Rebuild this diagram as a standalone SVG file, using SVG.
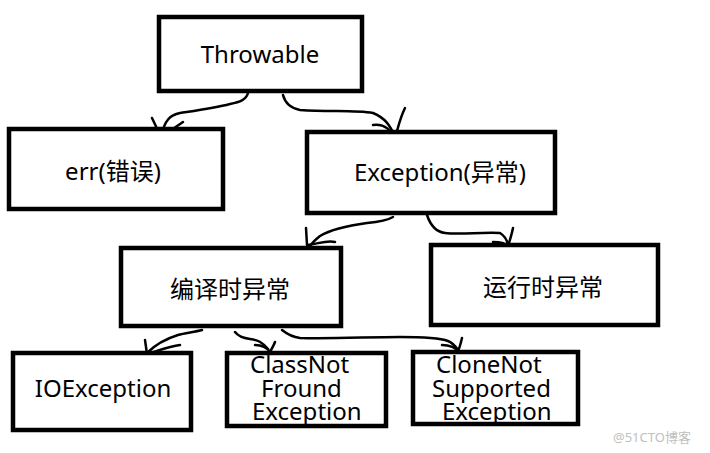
<svg xmlns="http://www.w3.org/2000/svg" width="710" height="453" viewBox="0 0 710 453">
<style>
.box{fill:#fff;stroke:#000;stroke-width:4.5}
.t{font-family:"Noto Sans","Noto Sans CJK SC",sans-serif;font-size:24px;fill:#000}
.c{text-anchor:middle}
.ln{fill:none;stroke:#000;stroke-width:2.5;stroke-linecap:round;stroke-linejoin:round}
.wm{font-family:"Noto Sans","Noto Sans CJK SC",sans-serif;font-size:13px;fill:#c0c0c0}
</style>
<rect width="710" height="453" fill="#fff"/>
<g id="connectors">
<path class="ln" d="M248,93 C246,100 240,102 230,104 C215,108 200,110 180,113 C170,115 165,120 161,136"/>
<path class="ln" d="M152,118 L161,137 L183,122"/>
<path class="ln" d="M283,95 C285,103 290,108 300,110 C330,112 355,110 373,113 C385,118 390,125 395,137"/>
<path class="ln" d="M373,125 C385,123 392,132 395,138 C398,128 400,118 405,108"/>
<path class="ln" d="M393,217 C388,220 378,222 367,223 C345,226 330,230 320,236 C315,240 312,243 310,246"/>
<path class="ln" d="M306,228 L307,245 C318,244 326,240 335,242"/>
<path class="ln" d="M427,215 C430,224 436,232 445,233 C460,235 480,232 500,233 C505,236 507,240 508,245"/>
<path class="ln" d="M493,242 C500,242 506,244 508,246 C510,240 512,233 513,228"/>
<path class="ln" d="M202,330 C195,332 185,333 178,335 C165,339 156,344 147,353"/>
<path class="ln" d="M145,340 L147,354 C160,350 170,346 180,345"/>
<path class="ln" d="M235,332 C238,336 243,338 250,339 C258,340 262,342 268,349"/>
<path class="ln" d="M255,345 C262,345 268,348 270,352 C272,348 274,345 275,342"/>
<path class="ln" d="M282,330 C287,334 292,337 300,338 C330,339 370,337 400,337 C425,337 440,338 448,341 C453,343 456,347 458,350"/>
<path class="ln" d="M442,345 C450,345 456,348 458,351 C460,347 461,342 462,338"/>
</g>
<g id="throwable">
<rect class="box" x="159" y="17" width="203" height="74"/>
<text class="t c" x="260" y="63">Throwable</text>
</g>
<g id="err">
<rect class="box" x="9" y="129" width="214" height="80"/>
<text class="t c" x="113" y="180">err(错误)</text>
</g>
<g id="exception">
<rect class="box" x="307" y="132" width="248" height="81"/>
<text class="t c" x="440" y="181">Exception(异常)</text>
</g>
<g id="checked">
<rect class="box" x="121" y="248" width="220" height="78"/>
<text class="t c" x="230" y="298">编译时异常</text>
</g>
<g id="runtime">
<rect class="box" x="431" y="245" width="227" height="80"/>
<text class="t c" x="543" y="296">运行时异常</text>
</g>
<g id="ioexception">
<rect class="box" x="13" y="353" width="178" height="77"/>
<text class="t c" x="103" y="397">IOException</text>
</g>
<g id="classnotfound">
<rect class="box" x="227" y="353" width="159" height="73"/>
<text class="t" x="250" y="373">ClassNot</text>
<text class="t" x="261" y="397">Fround</text>
<text class="t" x="252" y="420">Exception</text>
</g>
<g id="clonenotsupported">
<rect class="box" x="413" y="352" width="165" height="72"/>
<text class="t" x="436" y="373">CloneNot</text>
<text class="t" x="432" y="397">Supported</text>
<text class="t" x="442" y="420">Exception</text>
</g>
<text class="wm" x="613" y="442">@51CTO博客</text>
</svg>
